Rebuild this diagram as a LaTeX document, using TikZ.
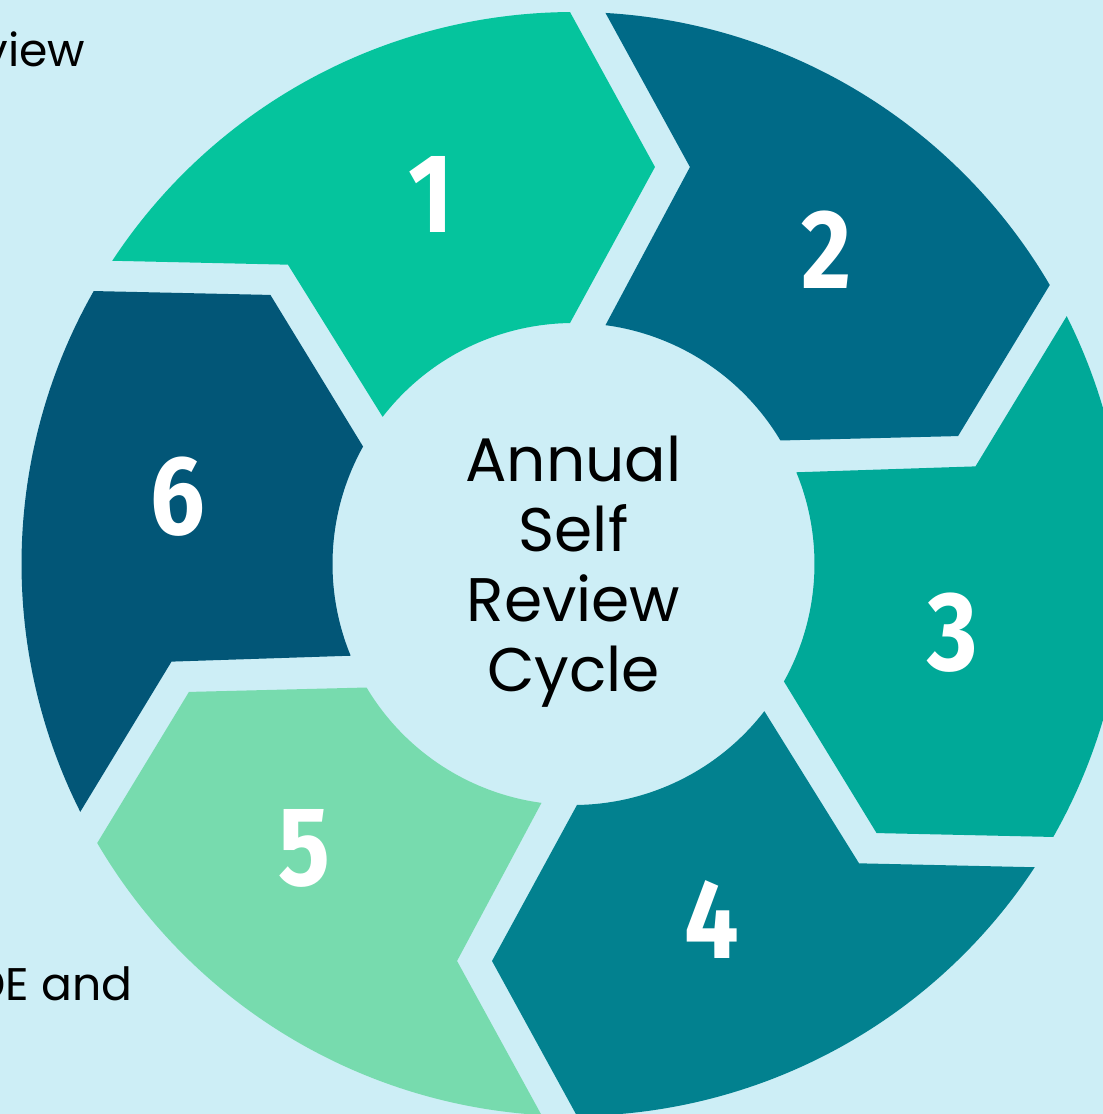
\documentclass[tikz,border=0pt]{standalone}
\usepackage{fontspec}
\setmainfont{Poppins}
\newfontfamily\numfont[FakeStretch=0.86]{Fira Sans}
\definecolor{bgblue}{HTML}{CDEEF6}
\definecolor{segA}{HTML}{05C49D}
\definecolor{segB}{HTML}{006A87}
\definecolor{segC}{HTML}{00A998}
\definecolor{segD}{HTML}{02818F}
\definecolor{segE}{HTML}{77DBAE}
\definecolor{segF}{HTML}{025677}

\begin{document}
\begin{tikzpicture}[
  num/.style={text=white,font=\numfont\bfseries\fontsize{32}{32}\selectfont},
  side/.style={anchor=base east,inner sep=0pt,font=\fontsize{13}{15}\selectfont}]
% background and page frame
\fill[bgblue] (-5.735,-5.50) rectangle (5.295,5.64);
\clip (-5.735,-5.50) rectangle (5.295,5.64);
% ring segments, each one turned 60 degrees clockwise from the one before
\foreach \n/\col/\a/\r in {1/segA/111.1/3.965,2/segB/51.1/4.035,3/segC/-10.2/3.855,
                           4/segD/-68.7/3.82,5/segE/-133.4/3.91,6/segF/170.4/4.01}{
  \fill[\col,rotate={-60*(\n-1)}] (146.677:5.52) -- (133.65:4.137) -- (142.37:2.41)
    arc[start angle=142.37,end angle=90.832,radius=2.41] -- (78.40:4.053) -- (90.363:5.52)
    arc[start angle=90.363,end angle=146.677,radius=5.52] -- cycle;
  \node[num] (num\n) at (\a:\r) {\n};
}
% centre title
\node[align=center,font=\fontsize{17.5}{19.9}\selectfont] (title) at (0,-0.08)
  {Annual\\Self\\Review\\Cycle};
% text running in from the left
\node[side] (txtview) at (-4.875,4.97) {view};
\node[side] (txtand) at (-4.405,-4.36) {DE and};
\end{tikzpicture}
\end{document}
